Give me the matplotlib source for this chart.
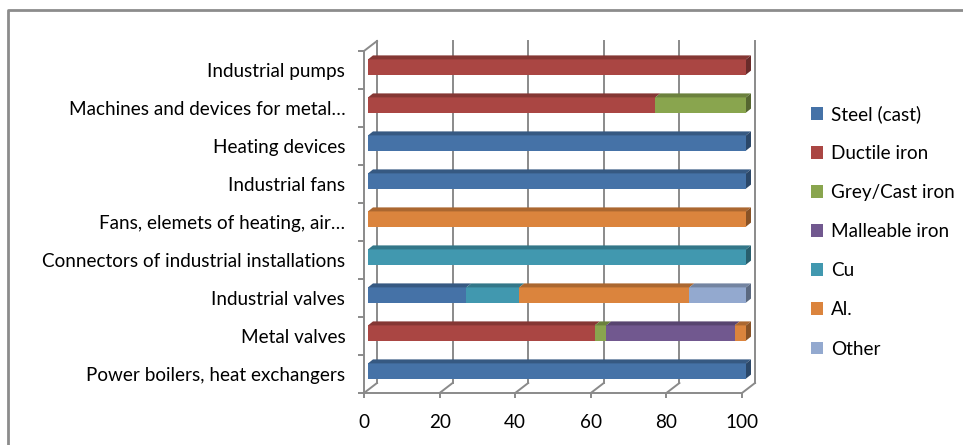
import matplotlib
matplotlib.use('Agg')
import matplotlib.pyplot as plt
from matplotlib.patches import Polygon, Rectangle
from matplotlib.lines import Line2D
from matplotlib.transforms import ScaledTranslation, IdentityTransform
import numpy as np

# ---------------- data ----------------
categories = [
    "Power boilers, heat exchangers",
    "Metal valves",
    "Industrial valves",
    "Connectors of industrial installations",
    "Fans, elemets of heating, air\u2026",
    "Industrial fans",
    "Heating devices",
    "Machines and devices for metal\u2026",
    "Industrial pumps",
]
series_names = ["Steel (cast)", "Ductile iron", "Grey/Cast iron", "Malleable iron", "Cu", "Al.", "Other"]
steel     = [100, 0, 26, 0, 0, 100, 100, 0, 0]
ductile   = [0, 60, 0, 0, 0, 0, 0, 76, 100]
grey      = [0, 3, 0, 0, 0, 0, 0, 24, 0]
malleable = [0, 34, 0, 0, 0, 0, 0, 0, 0]
cu        = [0, 0, 14, 100, 0, 0, 0, 0, 0]
al        = [0, 3, 45, 0, 100, 0, 0, 0, 0]
other     = [0, 0, 15, 0, 0, 0, 0, 0, 0]
x_ticks = [0, 20, 40, 60, 80, 100]

series = [steel, ductile, grey, malleable, cu, al, other]
colors = ["#4572A7", "#AA4643", "#89A54E", "#71588F", "#4198AF", "#DB843D", "#93A9CF"]

plt.rcParams['font.family'] = ['Lato', 'DejaVu Sans']
FS = 13.6

W, H = 963, 445
fig = plt.figure(figsize=(W / 100, H / 100), dpi=100)
ax = fig.add_axes([364 / W, 1 - 393 / H, (742 - 364) / W, (393 - 51) / H])
ax.set_xlim(0, 100)
ax.set_ylim(-0.5, len(categories) - 0.5)

GRID = "#8a8a8a"
BACK = (13, 10)      # depth offset of back wall, px
FRONT = (4, 3)       # offset of bar front face, px
DEPTH = (5, 4)       # bar depth, px


def shade(c, f):
    r, g, b = matplotlib.colors.to_rgb(c)
    return (r * f, g * f, b * f)


def px_off(dx, dy):
    return ScaledTranslation(dx / 100, dy / 100, fig.dpi_scale_trans)


# back wall gridlines
back_tr = ax.transData + px_off(*BACK)
for xv in x_ticks:
    ax.plot([xv, xv], [-0.5, len(categories) - 0.5], color=GRID, lw=1.4,
            transform=back_tr, clip_on=False, zorder=0)

# diagonals (floor & top-left)
fig.canvas.draw()
ident = IdentityTransform()
diag_pts = [(xv, -0.5) for xv in x_ticks] + [(0, len(categories) - 0.5)]
for p in diag_pts:
    x0, y0 = ax.transData.transform(p)
    fig.add_artist(Line2D([x0, x0 + BACK[0]], [y0, y0 + BACK[1]], color=GRID, lw=1.4,
                          transform=ident))

# bars
yy = np.arange(len(categories))
left = np.zeros(len(categories))
front_tr = ax.transData + px_off(*FRONT)
last_seg = {}
all_rects = []
for vals, col, name in zip(series, colors, series_names):
    vals = np.array(vals, dtype=float)
    bars = ax.barh(yy, vals, left=left, height=0.4, color=col, edgecolor='none',
                   transform=front_tr, clip_on=False, zorder=3, label=name)
    for i, r in enumerate(bars.patches):
        if vals[i] > 0:
            last_seg[i] = (r, col)
            all_rects.append((r, col))
    left = left + vals

for r, col in all_rects:
    x0, y0 = r.get_x(), r.get_y()
    x1, y1 = x0 + r.get_width(), y0 + r.get_height()
    (dx0, dy0) = front_tr.transform((x0, y0))
    (dx1, dy1) = front_tr.transform((x1, y1))
    top = Polygon([(dx0, dy1), (dx1, dy1), (dx1 + DEPTH[0], dy1 + DEPTH[1]),
                   (dx0 + DEPTH[0], dy1 + DEPTH[1])], closed=True,
                  facecolor=shade(col, 0.78), edgecolor='none', transform=ident, zorder=2)
    fig.add_artist(top)

for i, (r, col) in last_seg.items():
    x1 = r.get_x() + r.get_width()
    y0, y1 = r.get_y(), r.get_y() + r.get_height()
    (ax1, ay0) = front_tr.transform((x1, y0))
    (_, ay1) = front_tr.transform((x1, y1))
    side = Polygon([(ax1, ay0), (ax1 + DEPTH[0], ay0 + DEPTH[1]),
                    (ax1 + DEPTH[0], ay1 + DEPTH[1]), (ax1, ay1)], closed=True,
                   facecolor=shade(col, 0.62), edgecolor='none', transform=ident, zorder=2)
    fig.add_artist(side)

# axes styling
for s in ['top', 'right']:
    ax.spines[s].set_visible(False)
for s in ['left', 'bottom']:
    ax.spines[s].set_color(GRID)
    ax.spines[s].set_linewidth(1.4)
ax.set_facecolor('none')
ax.set_yticks(yy)
ax.set_yticklabels(categories, fontsize=FS)
ax.set_yticks(np.arange(-0.5, len(categories), 1.0), minor=True)
ax.tick_params(axis='y', which='major', length=0, pad=13.5)
ax.tick_params(axis='y', which='minor', length=4.3, width=1.4, color=GRID)
ax.set_xticks(x_ticks)
ax.set_xticklabels([str(v) for v in x_ticks], fontsize=FS)
ax.tick_params(axis='x', which='major', length=3.6, width=1.4, color=GRID, pad=11.5)

# legend
handles = [Rectangle((0, 0), 1, 1, facecolor=c, edgecolor='none') for c in colors]
fig.legend(handles, series_names, loc='upper left', bbox_to_anchor=(811 / W, 1 - 105 / H),
           frameon=False, fontsize=FS, handlelength=0.65, handleheight=0.65,
           handletextpad=0.4, labelspacing=1.17, borderpad=0, borderaxespad=0)

# chart border (left & top)
fig.add_artist(Line2D([8, 8, W], [0, H - 10, H - 10], color="#8c8c8c", lw=2,
                      transform=ident))

fig.savefig("out.png", dpi=100)
